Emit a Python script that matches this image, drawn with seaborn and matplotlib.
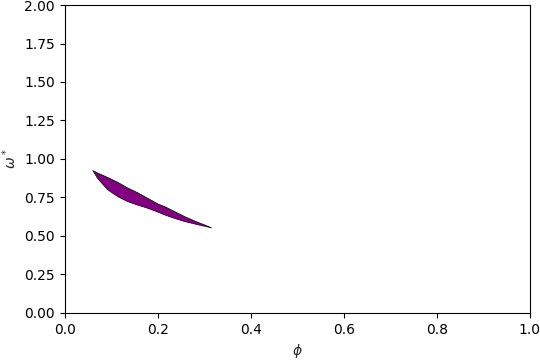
import numpy as np
import matplotlib
matplotlib.use("Agg")
import matplotlib.pyplot as plt
import seaborn as sns

phi = [0.060, 0.071, 0.092, 0.114, 0.135, 0.157, 0.178, 0.200,
       0.215, 0.237, 0.258, 0.283, 0.300, 0.316]
omega_upper = [0.925, 0.908, 0.880, 0.848, 0.812, 0.780, 0.745, 0.708,
               0.690, 0.657, 0.625, 0.592, 0.572, 0.552]
omega_lower = [0.925, 0.872, 0.800, 0.755, 0.723, 0.700, 0.680, 0.655,
               0.636, 0.613, 0.593, 0.575, 0.563, 0.552]

sns.set_style("ticks")
plt.rcParams["font.family"] = ["DejaVu Sans"]

fig, ax = plt.subplots(figsize=(5.4, 3.6), dpi=100)
fig.subplots_adjust(left=0.12, right=0.981, bottom=0.131, top=0.986)

xs = list(phi) + list(phi[::-1])
ys = list(omega_upper) + list(omega_lower[::-1])
ax.fill(xs, ys, facecolor="purple", edgecolor="black", linewidth=0.5)

ax.set_xlim(0, 1)
ax.set_ylim(0, 2)
ax.set_xticks(np.arange(0, 1.01, 0.2))
ax.set_yticks(np.arange(0, 2.01, 0.25))
ax.set_xlabel(r"$\phi$")
ax.set_ylabel(r"$\omega^*$")
for s in ax.spines.values():
    s.set_visible(True)
    s.set_color("black")
    s.set_linewidth(0.8)
ax.tick_params(colors="black", labelsize=10, length=3.5, width=0.8)

fig.savefig("out.png", dpi=100)
